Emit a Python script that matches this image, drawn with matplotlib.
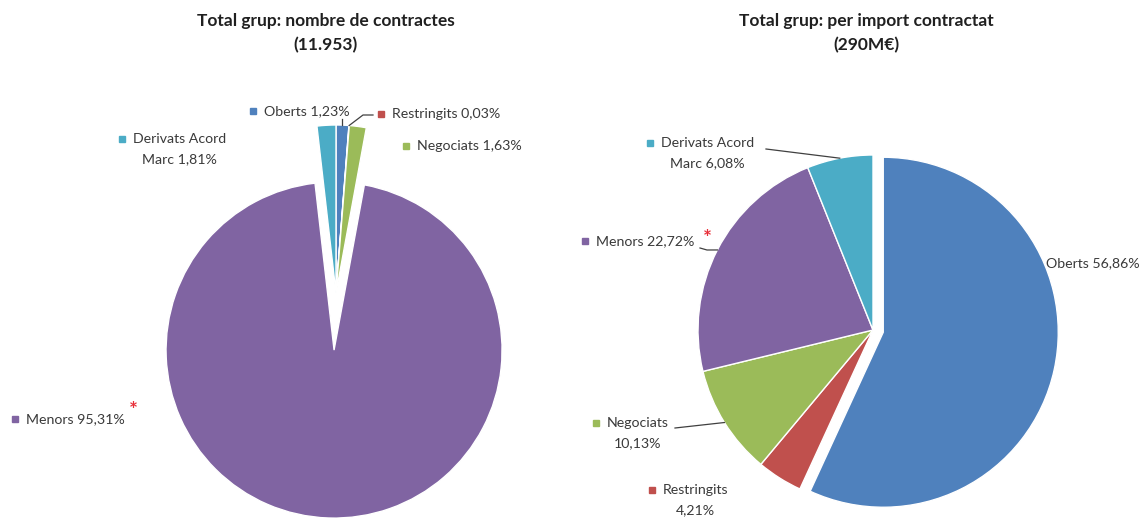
import matplotlib
matplotlib.use("Agg")
import matplotlib.pyplot as plt
import numpy as np

# ---------------- data ----------------
categories = ["Oberts", "Restringits", "Negociats", "Menors", "Derivats Acord Marc"]
left_pct = [1.23, 0.03, 1.63, 95.31, 1.81]
right_pct = [56.86, 4.21, 10.13, 22.72, 6.08]
left_labels = ["Oberts 1,23%", "Restringits 0,03%", "Negociats 1,63%",
               "Menors 95,31%", "Derivats Acord\nMarc 1,81%"]
right_labels = ["Oberts 56,86%", "Restringits\n4,21%", "Negociats\n10,13%",
                "Menors 22,72%", "Derivats Acord\nMarc 6,08%"]
left_title = "Total grup: nombre de contractes\n(11.953)"
right_title = "Total grup: per import contractat\n(290M€)"
colors = ["#4F81BD", "#C0504D", "#9BBB59", "#8064A2", "#4BACC6"]

# ---------------- layout (pixels, origin top-left) ----------------
W, H = 1148, 518
FONT = ["Lato", "DejaVu Sans"]
TXT = "#3A3A3A"
plt.rcParams["font.family"] = FONT

fig = plt.figure(figsize=(W / 100, H / 100), dpi=100)
ax = fig.add_axes([0, 0, 1, 1])


def py(y):
    return H - y


# left pie
L_CENTER = (336, 293)
L_R = 168
L_EXPLODE = [0, 0, 0, 0.34, 0]
# right pie
R_CENTER = (873, 330)
R_R = 175
R_EXPLODE = [0.06, 0, 0, 0, 0]

wl, _ = ax.pie(left_pct, colors=colors, startangle=90, counterclock=False,
               center=(L_CENTER[0], py(L_CENTER[1])), radius=L_R,
               explode=[e * L_R for e in L_EXPLODE],
               wedgeprops=dict(edgecolor="white", linewidth=1.0))
wr, _ = ax.pie(right_pct, colors=colors, startangle=90, counterclock=False,
               center=(R_CENTER[0], py(R_CENTER[1])), radius=R_R,
               explode=[e * R_R for e in R_EXPLODE],
               wedgeprops=dict(edgecolor="white", linewidth=1.0))
ax.set_xlim(0, W)
ax.set_ylim(0, H)
ax.set_aspect("auto")
ax.axis("off")

# titles
ax.text(326, py(13), left_title, ha="center", va="top", fontsize=12.5,
        fontweight="bold", color="#202020", linespacing=1.6)
ax.text(866, py(13), right_title, ha="center", va="top", fontsize=12.5,
        fontweight="bold", color="#202020", linespacing=1.6)

FS = 10.2
LS = 1.78


def label(mx, y, s, color, marker=True):
    if marker:
        ax.plot([mx], [py(y)], marker="s", ms=5, color=color, mec=color)
        tx = mx + 11
    else:
        tx = mx
    ax.text(tx, py(y - 6), s, ha="left", va="top", fontsize=FS, color=TXT,
            multialignment="center", linespacing=LS)


# left labels: (marker x, first-line y)
left_pos = [(253, 111), (381, 114), (406, 146), (15, 419), (122, 139)]
for (mx, y), s, c in zip(left_pos, left_labels, colors):
    label(mx, y, s, c)

# right labels
right_pos = [(1046, 263), (652, 490), (596, 423), (585, 241), (650, 143)]
for i, ((mx, y), s, c) in enumerate(zip(right_pos, right_labels, colors)):
    label(mx, y, s, c, marker=(i != 0))


def arc_point(w):
    t = np.deg2rad((w.theta1 + w.theta2) / 2)
    return w.center[0] + w.r * np.cos(t), w.center[1] + w.r * np.sin(t)


LINE = dict(color="#404040", lw=0.9)
# left leaders
x0, y0 = arc_point(wl[0])
ax.plot([x0, x0], [y0, py(119)], **LINE)
x0, y0 = arc_point(wl[1])
ax.plot([x0, 363, 373], [y0, py(115), py(115)], **LINE)
# right leaders
x0, y0 = arc_point(wr[4])
ax.plot([x0, 766], [y0, py(149)], **LINE)
x0, y0 = arc_point(wr[3])
ax.plot([x0, 707, 700], [y0, py(250), py(248)], **LINE)
x0, y0 = arc_point(wr[2])
ax.plot([x0, 675], [y0, py(428)], **LINE)

# red asterisks
ax.text(133, py(411), "*", ha="center", va="center", fontsize=15,
        fontweight="bold", color="#E8303A")
ax.text(707, py(239), "*", ha="center", va="center", fontsize=15,
        fontweight="bold", color="#E8303A")

fig.savefig("out.png", dpi=100, facecolor="white")
